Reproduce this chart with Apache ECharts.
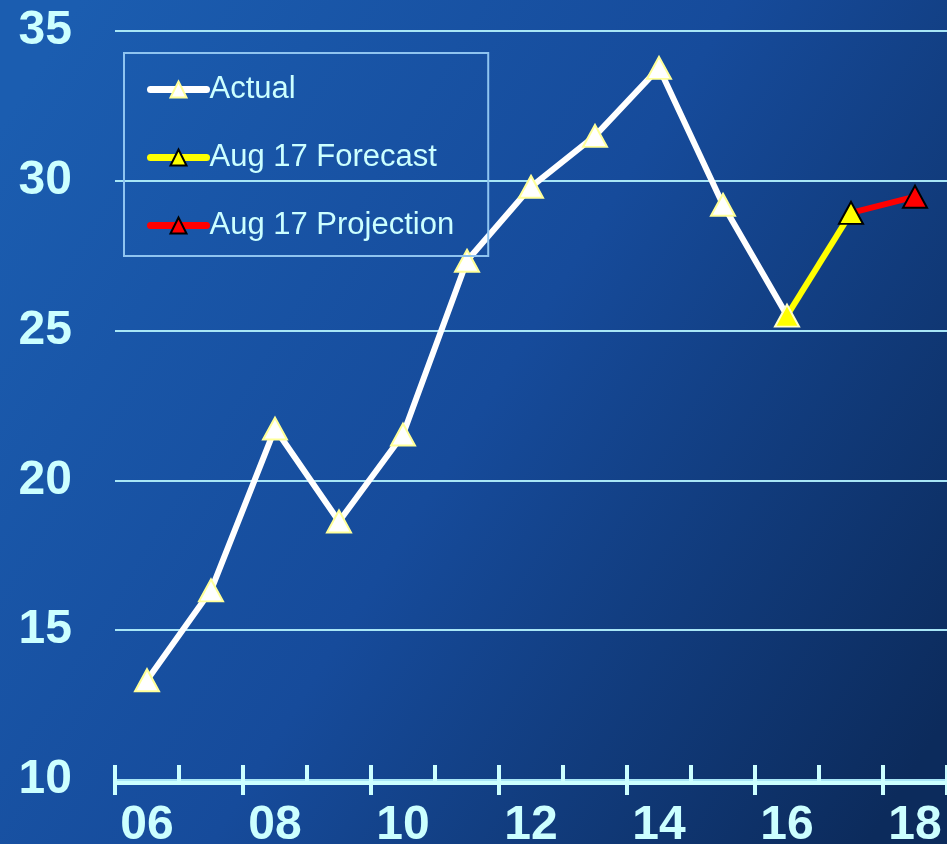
<!DOCTYPE html>
<html><head><meta charset="utf-8">
<script src="https://cdn.jsdelivr.net/npm/echarts@6/dist/echarts.min.js"></script>
<style>html,body{margin:0;padding:0;}#c{width:947px;height:844px;}</style>
</head><body><div id="c"></div>
<script>
const categories = ['06','07','08','09','10','11','12','13','14','15','16','17','18'];
const actual = [13.33,16.33,21.73,18.63,21.53,27.33,29.8,31.5,33.77,29.2,25.5,'-','-'];
const forecast = ['-','-','-','-','-','-','-','-','-','-',25.5,28.93,'-'];
const projection = ['-','-','-','-','-','-','-','-','-','-','-',28.93,29.47];
const seriesNames = ['Actual','Aug 17 Forecast','Aug 17 Projection'];

const txt = '#ccffff';
const font = '"Liberation Sans", Arial, sans-serif';
const chart = echarts.init(document.getElementById('c'));

const actualData = actual.map((v,i)=> i===10 ? {value:v, itemStyle:{color:'#ffff00', borderColor:'#ffffcc'}} : v);
const forecastData = forecast.map((v,i)=> i===10 ? {value:v, symbol:'none'} : v);
const projData = projection.map((v,i)=> i===11 ? {value:v, symbol:'none'} : v);

chart.setOption({
  backgroundColor: {type:'linear', x:0, y:0.15, x2:1, y2:0.85, colorStops:[
    {offset:0, color:'#1b5db0'},{offset:0.5, color:'#164b9b'},{offset:1, color:'#0c2b5c'}]},
  animation:false,
  grid:{left:115, right:0, top:31, bottom:64, outerBoundsMode:'none', containLabel:false},
  legend:{
    orient:'vertical', left:124, top:53,
    padding:[21,34,15,23],
    borderColor:'#8fc4f0', borderWidth:2,
    itemWidth:56, itemHeight:20, itemGap:37,
    data:seriesNames.map(n=>({name:n})),
    lineStyle:{width:7, cap:'round'},
    textStyle:{color:txt, fontSize:31, fontFamily:font, padding:[0,0,0,-2]}
  },
  xAxis:[{
    type:'category', data:categories, boundaryGap:true, offset:3,
    axisLine:{show:true, lineStyle:{color:txt, width:4}},
    axisTick:{show:true, length:12, lineStyle:{color:txt, width:4}},
    axisLabel:{interval:1, color:txt, fontSize:48, fontWeight:'bold', fontFamily:font, margin:19},
    splitLine:{show:false}
  },{
    type:'category', data:categories, boundaryGap:true, position:'bottom', offset:3,
    axisLine:{show:false},
    axisTick:{show:true, inside:true, length:18, lineStyle:{color:txt, width:4}},
    axisLabel:{show:false}, splitLine:{show:false}
  }],
  yAxis:{
    type:'value', min:10, max:35, interval:5,
    axisLine:{show:false}, axisTick:{show:false},
    axisLabel:{color:txt, fontSize:48, fontWeight:'bold', fontFamily:font, margin:43},
    splitLine:{show:true, lineStyle:{color:'#a8e6f6', width:2}}
  },
  series:[
    {name:'Actual', type:'line', data:actualData, symbol:'triangle', symbolSize:[24,22],
     lineStyle:{color:'#ffffff', width:6}, itemStyle:{color:'#ffffff', borderColor:'#ffff99', borderWidth:2}, z:3},
    {name:'Aug 17 Forecast', type:'line', data:forecastData, symbol:'triangle', symbolSize:[24,22],
     lineStyle:{color:'#ffff00', width:6}, itemStyle:{color:'#ffff00', borderColor:'#000000', borderWidth:2}, z:2},
    {name:'Aug 17 Projection', type:'line', data:projData, symbol:'triangle', symbolSize:[24,22],
     lineStyle:{color:'#ff0000', width:6}, itemStyle:{color:'#ff0000', borderColor:'#000000', borderWidth:2}, z:1}
  ]
});
</script></body></html>
